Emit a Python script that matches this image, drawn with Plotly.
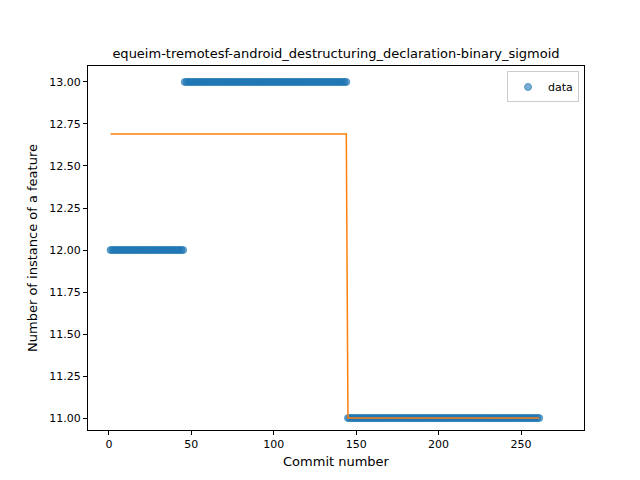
import plotly.graph_objects as go

# observed data: constant runs of feature counts per commit
seg_starts = [1, 46, 145]
seg_ends = [45, 144, 261]
seg_values = [12, 13, 11]

# fitted binary sigmoid
fit_x = [1, 144, 145, 261]
fit_y = [12.69, 12.69, 11.0, 11.0]

x, y = [], []
for s, e, v in zip(seg_starts, seg_ends, seg_values):
    for c in range(s, e + 1):
        x.append(c)
        y.append(v)

fig = go.Figure()
fig.add_trace(go.Scatter(
    x=x, y=y, mode="markers", name="data",
    marker=dict(size=7, color="rgba(31,119,180,0.6)", line=dict(width=0.8, color="rgba(31,119,180,0.8)")),
))
fig.add_trace(go.Scatter(
    x=fit_x, y=fit_y, mode="lines", showlegend=False,
    line=dict(color="#ff7f0e", width=1.5),
))

axis = dict(showline=True, linecolor="black", linewidth=1, mirror=True,
            ticks="outside", ticklen=4, tickcolor="black", showgrid=False,
            zeroline=False, automargin=False, tickfont=dict(size=11, color="black"))

fig.update_layout(
    width=640, height=480,
    margin=dict(l=80, r=64, t=58, b=58),
    paper_bgcolor="white", plot_bgcolor="white",
    font=dict(family="DejaVu Sans", color="black"),
    title=dict(text="equeim-tremotesf-android_destructuring_declaration-binary_sigmoid",
               x=0.5, xanchor="center", y=0.895, yanchor="bottom",
               xref="paper", font=dict(size=13)),
    xaxis=dict(axis, range=[-12.7, 288.2], tickvals=[0, 50, 100, 150, 200, 250],
               title=dict(text="Commit number", font=dict(size=13), standoff=6)),
    yaxis=dict(axis, range=[10.929, 13.095],
               tickvals=[11.0, 11.25, 11.5, 11.75, 12.0, 12.25, 12.5, 12.75, 13.0],
               ticktext=["11.00", "11.25", "11.50", "11.75", "12.00", "12.25", "12.50", "12.75", "13.00"],
               title=dict(text="Number of instance of a feature", font=dict(size=13), standoff=8)),
    legend=dict(x=0.99, y=0.985, xanchor="right", yanchor="top",
                bordercolor="#cccccc", borderwidth=1, bgcolor="white",
                font=dict(size=11)),
)

fig.write_html("out.html")
